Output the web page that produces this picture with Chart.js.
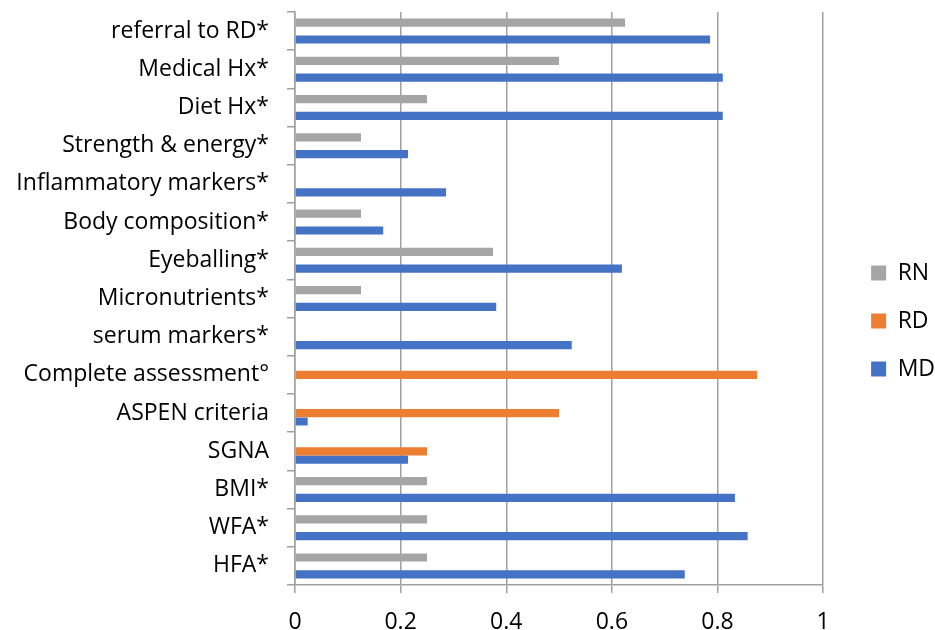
<!DOCTYPE html>
<html>
<head>
<meta charset="utf-8">
<title>Assessment components by profession</title>
<script src="https://cdn.jsdelivr.net/npm/chart.js@4.4.1/dist/chart.umd.min.js"></script>
<style>
  html, body { margin: 0; padding: 0; background: #fff; }
  #wrap { width: 935px; height: 630px; }
</style>
</head>
<body>
<div id="wrap"><canvas id="chart" width="935" height="630"></canvas></div>
<script>
const categories = [
    'referral to RD*', 'Medical Hx*', 'Diet Hx*', 'Strength & energy*',
    'Inflammatory markers*', 'Body composition*', 'Eyeballing*', 'Micronutrients*',
    'serum markers*', 'Complete assessment°', 'ASPEN criteria', 'SGNA',
    'BMI*', 'WFA*', 'HFA*',
];
const rnValues = [0.625, 0.5, 0.25, 0.125, null, 0.125, 0.375, 0.125, null, null, null, null, 0.25, 0.25, 0.25];
const rdValues = [null, null, null, null, null, null, null, null, null, 0.875, 0.5, 0.25, null, null, null];
const mdValues = [0.786, 0.81, 0.81, 0.214, 0.286, 0.167, 0.619, 0.381, 0.524, null, 0.024, 0.214, 0.833, 0.857, 0.738];
const xTicks = [0, 0.2, 0.4, 0.6, 0.8, 1];

const font = { family: '"Open Sans", sans-serif', size: 23 };
const lineGrey = '#a0a0a0';

function series(label, data, color) {
    return {
        label,
        data,
        backgroundColor: color,
        borderWidth: 0,
        xAxisID: 'x',
        yAxisID: 'y',
        categoryPercentage: 0.66,
        barPercentage: 0.98,
    };
}

// keep label overhang from shrinking the plot area
function noPadding(s) {
    s.paddingTop = 0;
    s.paddingBottom = 0;
    s.paddingLeft = 0;
    s.paddingRight = 0;
}

new Chart(document.querySelector('#chart'), {
    type: 'bar',
    data: {
        labels: categories,
        datasets: [
            series('RN', rnValues, '#a5a5a5'),
            series('RD', rdValues, '#ed7d31'),
            series('MD', mdValues, '#4472c4'),
        ],
    },
    options: {
        indexAxis: 'y',
        responsive: false,
        animation: false,
        layout: { padding: { top: 12, left: 0, right: -10, bottom: 0 } },
        scales: {
            x: {
                min: 0,
                max: 1,
                afterBuildTicks: (s) => { s.ticks = xTicks.map((v) => ({ value: v })); },
                afterFit: (s) => { s.height = 45; noPadding(s); },
                grid: { color: lineGrey, lineWidth: 1.5, tickLength: 8 },
                border: { color: lineGrey, width: 1.5 },
                ticks: { color: '#000', font, padding: 16, maxRotation: 0, callback: (v) => String(v) },
            },
            y: {
                afterFit: (s) => { s.width = 295; noPadding(s); },
                grid: { drawOnChartArea: false, color: lineGrey, lineWidth: 1.5, tickLength: 8 },
                border: { color: lineGrey, width: 1.5 },
                ticks: { color: '#000', font, padding: 18, autoSkip: false },
            },
            // empty spacer between plot and legend
            gap: {
                type: 'linear',
                position: 'right',
                afterFit: (s) => { s.width = 23; noPadding(s); },
                grid: { display: false },
                border: { display: false },
                ticks: { display: false },
            },
        },
        plugins: {
            legend: {
                position: 'right',
                labels: { color: '#000', font, boxWidth: 15, boxHeight: 15, padding: 25 },
            },
            tooltip: { enabled: false },
        },
    },
});
</script>
</body>
</html>
